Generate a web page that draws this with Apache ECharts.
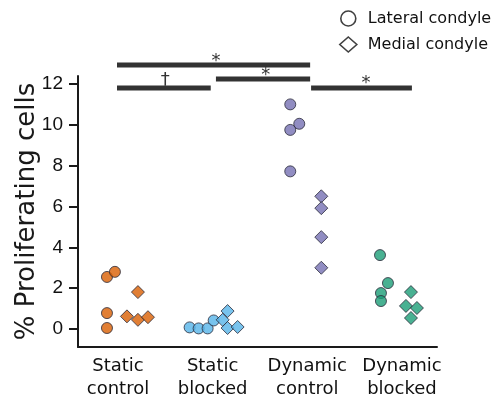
<!DOCTYPE html>
<html>
<head>
<meta charset="utf-8">
<script src="https://cdn.jsdelivr.net/npm/echarts@6/dist/echarts.min.js"></script>
<style>html,body{margin:0;padding:0;background:#fff}#c{width:492px;height:399px}</style>
</head>
<body>
<div id="c"></div>
<script>
// ---- data ----
var categories = ['Static\ncontrol', 'Static\nblocked', 'Dynamic\ncontrol', 'Dynamic\nblocked'];
var groupColors = ['#D95F02', '#56B4E9', '#7570B3', '#1B9E77'];
var yTicks = [0, 2, 4, 6, 8, 10, 12];

// Lateral condyle (circles): values per group and horizontal jitter
var lateralValues = [
  [2.55, 2.80, 0.78, 0.05],
  [0.08, 0.03, 0.03, 0.42],
  [11.00, 10.05, 9.75, 7.72],
  [3.62, 2.25, 1.76, 1.37]
];
var lateralJitter = [
  [-0.116, -0.032, -0.116, -0.116],
  [-0.243, -0.148, -0.053, 0.011],
  [-0.180, -0.085, -0.180, -0.180],
  [-0.232, -0.148, -0.222, -0.222]
];
// Medial condyle (diamonds)
var medialValues = [
  [1.81, 0.62, 0.45, 0.58],
  [0.88, 0.45, 0.05, 0.10],
  [6.50, 5.92, 4.50, 3.00],
  [1.81, 1.13, 1.03, 0.54]
];
var medialJitter = [
  [0.211, 0.095, 0.211, 0.317],
  [0.158, 0.106, 0.158, 0.264],
  [0.148, 0.148, 0.148, 0.148],
  [0.095, 0.042, 0.158, 0.095]
];

// significance brackets: [xStart, xEnd, y]
var sigBars = [
  [0.99, 3.03, 12.93],
  [0.99, 1.98, 11.80],
  [2.035, 3.03, 12.24],
  [3.04, 4.105, 11.80]
];
// significance marks: [x, y, text]
var sigMarks = [
  [2.035, 13.12, '*'],
  [1.50, 12.20, '\u2020'],
  [2.56, 12.42, '*'],
  [3.62, 12.05, '*']
];

// ---- build ----
function buildPoints(values, jitter) {
  var out = [];
  values.forEach(function (vals, g) {
    vals.forEach(function (v, i) {
      out.push({ value: [g + 1 + jitter[g][i], v], itemStyle: { color: groupColors[g] } });
    });
  });
  return out;
}

var chart = echarts.init(document.getElementById('c'), null, { renderer: 'canvas' });
var font = 'DejaVu Sans';
var option = {
  animation: false,
  backgroundColor: '#fff',
  grid: { left: 78, right: 55, top: 76, bottom: 52, containLabel: false, outerBoundsMode: 'none' },
  legend: {
    orient: 'vertical',
    left: 334,
    top: 5,
    itemWidth: 17,
    itemHeight: 15,
    itemGap: 9,
    textStyle: { fontFamily: font, fontSize: 16, color: '#111', lineHeight: 17, padding: [0, 0, 0, 6] },
    data: [
      { name: 'Lateral condyle', icon: 'circle', itemStyle: { color: '#fff', borderColor: '#111', borderWidth: 1.6 } },
      { name: 'Medial condyle', icon: 'diamond', itemStyle: { color: '#fff', borderColor: '#111', borderWidth: 1.6 } }
    ]
  },
  xAxis: {
    type: 'value',
    min: 0.578,
    max: 4.37,
    splitLine: { show: false },
    axisLine: { show: true, onZero: false, lineStyle: { color: '#1a1a1a', width: 2 } },
    axisTick: { show: false },
    axisLabel: {
      customValues: [1, 2, 3, 4],
      formatter: function (v) { return categories[Math.round(v) - 1]; },
      fontFamily: font, fontSize: 18, color: '#111', lineHeight: 23, margin: 8
    }
  },
  yAxis: {
    type: 'value',
    min: -0.88,
    max: 12.39,
    name: '% Proliferating cells',
    nameLocation: 'middle',
    nameGap: 38,
    nameMoveOverlap: false,
    nameRotate: 90,
    nameTextStyle: { fontFamily: font, fontSize: 26, color: '#1a1a1a' },
    splitLine: { show: false },
    axisLine: { show: true, onZero: false, lineStyle: { color: '#1a1a1a', width: 2 } },
    axisTick: { show: true, customValues: yTicks, length: 9, lineStyle: { color: '#1a1a1a', width: 2 } },
    axisLabel: { customValues: yTicks, fontFamily: 'Liberation Sans', fontSize: 19, color: '#111', margin: 15 }
  },
  series: [
    {
      name: 'Lateral condyle',
      type: 'scatter',
      symbol: 'circle',
      symbolSize: 11,
      itemStyle: { borderColor: '#2a2a3a', borderWidth: 1 },
      data: buildPoints(lateralValues, lateralJitter)
    },
    {
      name: 'Medial condyle',
      type: 'scatter',
      symbol: 'diamond',
      symbolSize: 13,
      itemStyle: { borderColor: '#2a2a3a', borderWidth: 1 },
      data: buildPoints(medialValues, medialJitter)
    },
    {
      type: 'custom',
      clip: false,
      silent: true,
      data: sigBars,
      renderItem: function (params, api) {
        var p1 = api.coord([api.value(0), api.value(2)]);
        var p2 = api.coord([api.value(1), api.value(2)]);
        return {
          type: 'rect',
          shape: { x: p1[0], y: p1[1] - 2.5, width: p2[0] - p1[0], height: 5 },
          style: { fill: '#333' }
        };
      }
    },
    {
      type: 'custom',
      clip: false,
      silent: true,
      data: sigMarks.map(function (m) { return [m[0], m[1]]; }),
      renderItem: function (params, api) {
        var p = api.coord([api.value(0), api.value(1)]);
        return {
          type: 'text',
          x: p[0], y: p[1],
          style: {
            text: sigMarks[params.dataIndex][2],
            fontFamily: font, fontSize: 18, fill: '#333',
            align: 'center', verticalAlign: 'middle'
          }
        };
      }
    }
  ]
};
chart.setOption(option);
</script>
</body>
</html>
